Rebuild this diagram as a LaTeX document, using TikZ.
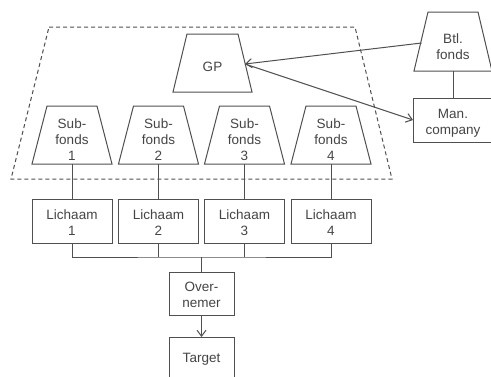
\documentclass[tikz,border=0pt]{standalone}
\usepackage{fontspec}
\setmainfont{Liberation Sans}
\usetikzlibrary{arrows.meta}
\definecolor{ln}{HTML}{505050}
\definecolor{tx}{HTML}{454545}
\begin{document}
\begin{tikzpicture}[x=1pt,y=-1pt,
  lbl/.style={font=\fontsize{13.5}{16}\selectfont, text=tx, align=center, inner sep=0pt},
  shp/.style={inner sep=0pt, outer sep=0pt},
  edge/.style={draw=ln, line width=1pt, line join=miter},
  boxn/.style={draw=ln, line width=1pt, inner sep=0pt, outer sep=0pt, font=\fontsize{13.5}{16}\selectfont, text=tx, align=center},
  arr/.style={edge, -{Straight Barb[length=6pt,width=9pt]}}]
\useasboundingbox (0,0) rectangle (491,376);
\clip (0,0) rectangle (491,376);
\fill[white] (0,0) rectangle (491,376);

% dashed enclosure
\draw[draw=ln, line width=1pt, dash pattern=on 4pt off 3pt] (49,27) -- (355,27) -- (392,179) -- (11,179) -- cycle;

% GP
\node[shp, minimum width=79pt, minimum height=58pt] (gp) at (212.5,63) {};
\draw[edge] (gp.south west) -- (gp.south east) -- ([xshift=-14pt]gp.north east) -- ([xshift=14pt]gp.north west) -- cycle;
\node[lbl] (gpt) at ([yshift=-4pt]gp.center) {GP};

% Btl. fonds
\node[shp, minimum width=78pt, minimum height=59pt] (btl) at (453,41.5) {};
\draw[edge] (btl.south west) -- (btl.south east) -- ([xshift=-14pt]btl.north east) -- ([xshift=14pt]btl.north west) -- cycle;
\node[lbl] (btlt) at ([yshift=-5.5pt]btl.center) {Btl.\\fonds};

% Man. company
\node[boxn, minimum width=80pt, minimum height=44pt] (mc) at (453,120) {};
\node[lbl] (mct) at ([yshift=-3pt]mc.center) {Man.\\company};

% Sub-fonds and Lichaam
\foreach \i/\x in {1/72,2/158.5,3/244.5,4/331}{
  \node[shp, minimum width=80pt, minimum height=58pt] (sf\i) at (\x,135) {};
  \draw[edge] (sf\i.south west) -- (sf\i.south east) -- ([xshift=-15pt]sf\i.north east) -- ([xshift=15pt]sf\i.north west) -- cycle;
  \node[lbl] (sft\i) at ([yshift=-4.5pt]sf\i.center) {Sub-\\fonds\\\i};
  \node[boxn, minimum width=80pt, minimum height=44pt] (li\i) at (\x,221) {};
  \node[lbl] (lit\i) at ([yshift=-1.5pt]li\i.center) {Lichaam\\\i};
  \draw[edge] (sf\i.south) -- (li\i.north);
}

% Overnemer and Target
\node[boxn, minimum width=65pt, minimum height=43pt] (ov) at (201.5,293.5) {};
\node[lbl] (ovt) at ([yshift=-1pt]ov.center) {Over-\\nemer};
\node[boxn, minimum width=65pt, minimum height=46pt] (tg) at (201.5,360) {};
\node[lbl] (tgt) at (201.5,359) {Target};

% bus
\coordinate (bus) at (201.5,257);
\draw[edge] (li1.south) |- (bus) -| (li4.south);
\draw[edge] (li2.south) -- (li2.south |- bus);
\draw[edge] (li3.south) -- (li3.south |- bus);
\draw[edge] (bus) -- (ov.north);
\draw[arr] (ov.south) -- (tg.north);

% right side connectors
\draw[edge] (btl.south) -- (mc.north);
\coordinate (gpe) at ([xshift=-7pt,yshift=-1pt]gp.east);
\coordinate (btlw) at ([xshift=7.5pt,yshift=-1.5pt]btl.west);
\draw[arr] (btlw) -- (gpe);
\draw[arr] (gpe) -- (mc.west);
\end{tikzpicture}
\end{document}
